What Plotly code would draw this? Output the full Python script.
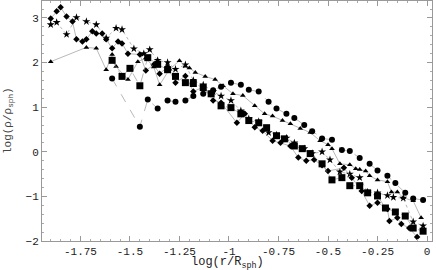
import plotly.graph_objects as go

star_x = [-1.90, -1.87, -1.82, -1.77, -1.72, -1.67, -1.62, -1.57, -1.54, -1.48, -1.43, -1.40, -1.36, -1.31, -1.27, -1.22, -1.18, -1.13, -1.08, -1.04, -0.99, -0.94, -0.90, -0.85, -0.80, -0.76, -0.71, -0.67, -0.62, -0.58, -0.53, -0.49, -0.44, -0.39, -0.34, -0.30, -0.25, -0.20, -0.17, -0.12, -0.07, -0.02]
star_y = [2.85, 2.90, 2.63, 3.01, 2.92, 2.85, 2.55, 2.77, 2.74, 2.31, 2.20, 2.29, 2.05, 2.00, 1.85, 1.95, 1.60, 1.50, 1.35, 1.25, 1.15, 0.92, 0.74, 0.68, 0.43, 0.38, 0.31, 0.20, 0.07, -0.04, 0.00, -0.18, -0.45, -0.50, -0.58, -0.90, -0.92, -0.98, -1.02, -1.04, -1.57, -1.66]

dia_x = [-1.90, -1.87, -1.85, -1.82, -1.79, -1.77, -1.74, -1.72, -1.69, -1.67, -1.64, -1.62, -1.59, -1.56, -1.54, -1.51, -1.45, -1.42, -1.38, -1.35, -1.31, -1.27, -1.22, -1.18, -1.13, -1.08, -1.04, -0.96, -0.92, -0.87, -0.83, -0.78, -0.74, -0.69, -0.65, -0.61, -0.57, -0.53, -0.50, -0.42, -0.38, -0.33, -0.29, -0.25, -0.20, -0.19, -0.15, -0.13, -0.09, -0.05]
dia_y = [2.99, 3.15, 3.24, 3.03, 2.92, 2.52, 2.47, 2.52, 2.70, 2.65, 2.65, 2.52, 2.32, 2.47, 2.43, 2.20, 2.18, 1.82, 1.95, 1.75, 1.90, 1.55, 1.70, 1.35, 1.45, 1.15, 1.10, 0.65, 0.85, 0.55, 0.47, 0.25, 0.20, 0.13, -0.13, -0.20, -0.18, -0.30, -0.43, -0.36, -0.58, -0.88, -1.21, -1.14, -1.28, -1.55, -1.48, -1.62, -1.71, -1.91]

tri_x = [-1.90, -1.72, -1.67, -1.62, -1.59, -1.57, -1.51, -1.46, -1.42, -1.38, -1.35, -1.30, -1.25, -1.22, -1.20, -1.17, -1.12, -1.07, -1.03, -0.98, -0.93, -0.87, -0.82, -0.78, -0.73, -0.69, -0.64, -0.59, -0.54, -0.50, -0.48, -0.44, -0.39, -0.36, -0.34, -0.31, -0.29, -0.25, -0.20, -0.18, -0.15, -0.12, -0.07, -0.03]
tri_y = [2.02, 2.34, 2.32, 1.84, 2.18, 1.91, 1.62, 2.02, 2.10, 1.90, 1.50, 1.85, 2.04, 1.92, 1.88, 1.78, 1.69, 1.62, 1.48, 1.30, 1.26, 1.03, 0.85, 0.80, 0.70, 0.63, 0.52, 0.43, 0.25, 0.16, 0.07, -0.27, -0.29, -0.38, -0.40, -0.43, -0.54, -0.63, -0.67, -0.90, -0.90, -1.03, -1.10, -1.48]

circ_x = [-1.59, -1.45, -1.41, -1.36, -1.31, -1.27, -1.22, -1.18, -1.13, -1.08, -1.04, -0.99, -0.94, -0.90, -0.85, -0.80, -0.76, -0.71, -0.67, -0.62, -0.58, -0.53, -0.48, -0.43, -0.39, -0.34, -0.29, -0.25, -0.20, -0.16, -0.11, -0.07, -0.02]
circ_y = [1.64, 0.56, 1.17, 0.97, 1.15, 1.12, 1.15, 1.25, 1.30, 1.38, 1.46, 1.55, 1.50, 1.39, 1.35, 1.12, 0.97, 0.85, 0.76, 0.60, 0.46, 0.30, 0.27, 0.04, 0.02, -0.14, -0.27, -0.42, -0.54, -0.70, -0.92, -1.05, -1.08]

sq_x = [-1.59, -1.54, -1.50, -1.45, -1.41, -1.36, -1.31, -1.27, -1.22, -1.18, -1.13, -1.09, -1.04, -0.99, -0.94, -0.90, -0.85, -0.81, -0.76, -0.72, -0.67, -0.63, -0.59, -0.53, -0.48, -0.43, -0.39, -0.34, -0.30, -0.25, -0.21, -0.16, -0.11, -0.07, -0.02]
sq_y = [2.05, 1.69, 1.87, 1.48, 2.11, 1.96, 1.84, 1.69, 1.55, 1.53, 1.44, 1.30, 1.03, 0.99, 0.85, 0.70, 0.65, 0.54, 0.36, 0.29, 0.13, 0.07, -0.04, -0.27, -0.63, -0.58, -0.76, -0.76, -0.92, -0.99, -1.26, -1.35, -1.44, -1.71, -1.78]

x_ticks = [-1.75, -1.5, -1.25, -1, -0.75, -0.5, -0.25, 0]
x_tick_text = ["-1.75", "-1.5", "-1.25", "-1", "-0.75", "-0.5", "-0.25", "0"]
y_ticks = [-2, -1, 0, 1, 2, 3]

series = [
    (star_x, star_y, "star", 6, "dot", "stars"),
    (dia_x, dia_y, "diamond", 5, "solid", "diamonds"),
    (tri_x, tri_y, "triangle-up", 5, "solid", "triangles"),
    (circ_x, circ_y, "circle", 6, "dash", "circles"),
    (sq_x, sq_y, "square", 7, "dashdot", "squares"),
]

fig = go.Figure()
for xs, ys, sym, size, dash, name in series:
    fig.add_trace(go.Scatter(
        x=xs, y=ys, mode="lines+markers", name=name,
        marker=dict(symbol=sym, size=size, color="black", line=dict(width=0)),
        line=dict(color="#888888", width=0.6, dash=dash),
    ))

axis_common = dict(
    showgrid=False, zeroline=False, showline=True, linecolor="#999999", linewidth=1,
    mirror="allticks", ticks="inside", ticklen=5, tickcolor="#999999", automargin=False,
    tickfont=dict(family="Liberation Mono", size=11, color="#222222"),
)

fig.update_layout(
    width=436, height=270,
    margin=dict(l=42, r=4, t=1, b=29),
    paper_bgcolor="white", plot_bgcolor="white",
    showlegend=False,
    xaxis=dict(range=[-1.944, 0.025], tickvals=x_ticks, ticktext=x_tick_text,
               minor=dict(ticks="inside", ticklen=2, tickcolor="#aaaaaa", dtick=0.05, tick0=0),
               **axis_common),
    yaxis=dict(range=[-2.0, 3.38], tickvals=y_ticks,
               minor=dict(ticks="inside", ticklen=2, tickcolor="#aaaaaa", dtick=0.2, tick0=0),
               **axis_common),
)

fig.add_annotation(text="log(r/R<sub>sph</sub>)", xref="paper", yref="paper",
                   x=0.475, y=-0.09, yanchor="middle", showarrow=False,
                   font=dict(family="Liberation Mono", size=12, color="#222222"))
fig.add_annotation(text="log(\u03c1/\u03c1<sub>sph</sub>)", xref="paper", yref="paper",
                   x=-0.087, y=0.5, xanchor="center", yanchor="middle", textangle=-90, showarrow=False,
                   font=dict(family="Liberation Mono", size=11, color="#444444"))

fig.write_html("out.html", config={"displayModeBar": False},
               post_script="document.body.style.margin='0';")
